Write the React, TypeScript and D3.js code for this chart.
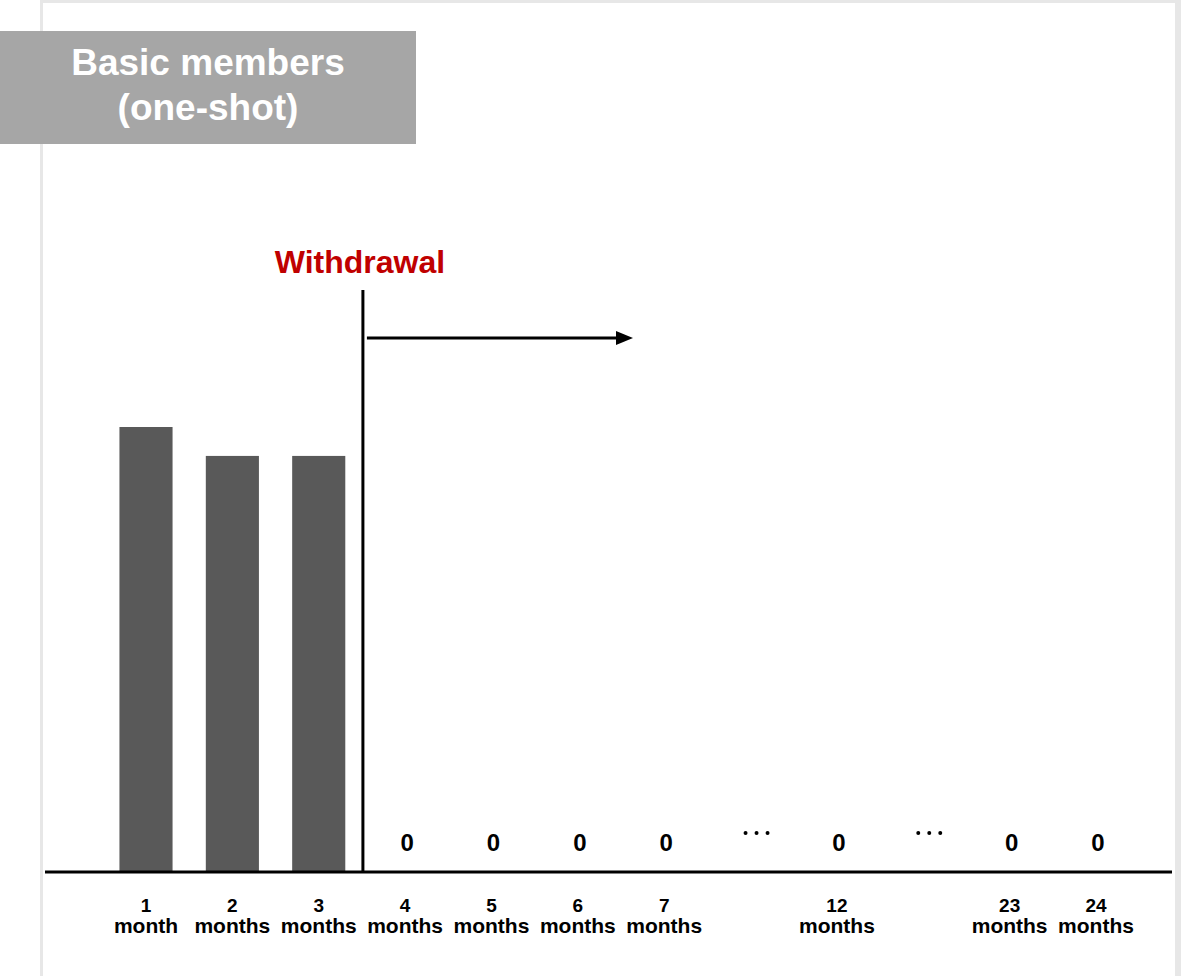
import React from "react";
import * as d3 from "d3";

// Months shown along the axis; gaps marked with ellipses
const categories = ["1", "2", "3", "4", "5", "6", "7", "gap1", "12", "gap2", "23", "24"];
const numberLabels = ["1", "2", "3", "4", "5", "6", "7", "", "12", "", "23", "24"];
const unitLabels = ["month", "months", "months", "months", "months", "months", "months", "", "months", "", "months", "months"];
// Relative share retained per month (null = ellipsis slot)
const values: (number | null)[] = [100, 93.5, 93.5, 0, 0, 0, 0, null, 0, null, 0, 0];
const withdrawalAfter = "3";
const titleLines = ["Basic members", "(one-shot)"];
const withdrawalLabel = "Withdrawal";
const ellipsisDots = [-1, 0, 1];

const W = 1181;
const H = 976;
const baseY = 872;
const font = "Arial, 'Liberation Sans', Helvetica, sans-serif";

export default function App() {
  const x = d3.scalePoint<string>().domain(categories).range([146, 1096]);
  const step = x.step();
  const barW = step * 0.615;
  const y = d3.scaleLinear().domain([0, 100]).range([baseY, 427]);

  const iW = categories.indexOf(withdrawalAfter);
  const lineX = (x(categories[iW])! + x(categories[iW + 1])!) / 2 + 1;

  return (
    <svg
      width={W}
      height={H}
      style={{ position: "absolute", left: 0, top: 0, display: "block" }}
      fontFamily={font}
    >
      <rect x={0} y={0} width={W} height={H} fill="#ffffff" />
      <rect x={40} y={0} width={W - 40} height={H} fill="#e7e7e7" />
      <rect x={43} y={3} width={W - 43 - 6} height={H} fill="#ffffff" />

      {/* title panel */}
      <rect x={0} y={31} width={416} height={113} fill="#a6a6a6" />
      {titleLines.map((t, i) => (
        <text
          key={t}
          x={208}
          y={75 + i * 45}
          textAnchor="middle"
          fill="#ffffff"
          fontWeight="bold"
          fontSize={37}
        >
          {t}
        </text>
      ))}

      {/* bars */}
      {categories.map((c, i) => {
        const v = values[i];
        if (v === null || v <= 0) return null;
        return (
          <rect
            key={c}
            x={x(c)! - barW / 2}
            y={y(v)}
            width={barW}
            height={baseY - y(v)}
            fill="#595959"
          />
        );
      })}

      {/* zero value labels and ellipses */}
      {categories.map((c, i) => {
        const v = values[i];
        if (v === null) {
          return (
            <g key={c}>
              {ellipsisDots.map((d) => (
                <circle key={d} cx={x(c)! + 6 + d * 11} cy={833} r={2} fill="#000" />
              ))}
            </g>
          );
        }
        if (v !== 0) return null;
        return (
          <text key={c} x={x(c)! + 2} y={851} textAnchor="middle" fontSize={24} fontWeight="bold" fill="#000">
            {v}
          </text>
        );
      })}

      {/* baseline */}
      <line x1={45} x2={1172} y1={baseY} y2={baseY} stroke="#000" strokeWidth={3} />

      {/* axis labels */}
      {categories.map((c, i) =>
        numberLabels[i] ? (
          <g key={c}>
            <text x={x(c)!} y={912} textAnchor="middle" fontSize={19} fontWeight="bold" fill="#000">
              {numberLabels[i]}
            </text>
            <text x={x(c)!} y={933} textAnchor="middle" fontSize={21} fontWeight="bold" fill="#000">
              {unitLabels[i]}
            </text>
          </g>
        ) : null
      )}

      {/* withdrawal marker */}
      <text x={360} y={273} textAnchor="middle" fontSize={32} fontWeight="bold" fill="#c00000">
        {withdrawalLabel}
      </text>
      <line x1={lineX} x2={lineX} y1={290} y2={baseY} stroke="#000" strokeWidth={3} />
      <line x1={lineX + 4} x2={618} y1={338} y2={338} stroke="#000" strokeWidth={3} />
      <path d={`M616,331 L633,338 L616,345 Z`} fill="#000" />
    </svg>
  );
}
